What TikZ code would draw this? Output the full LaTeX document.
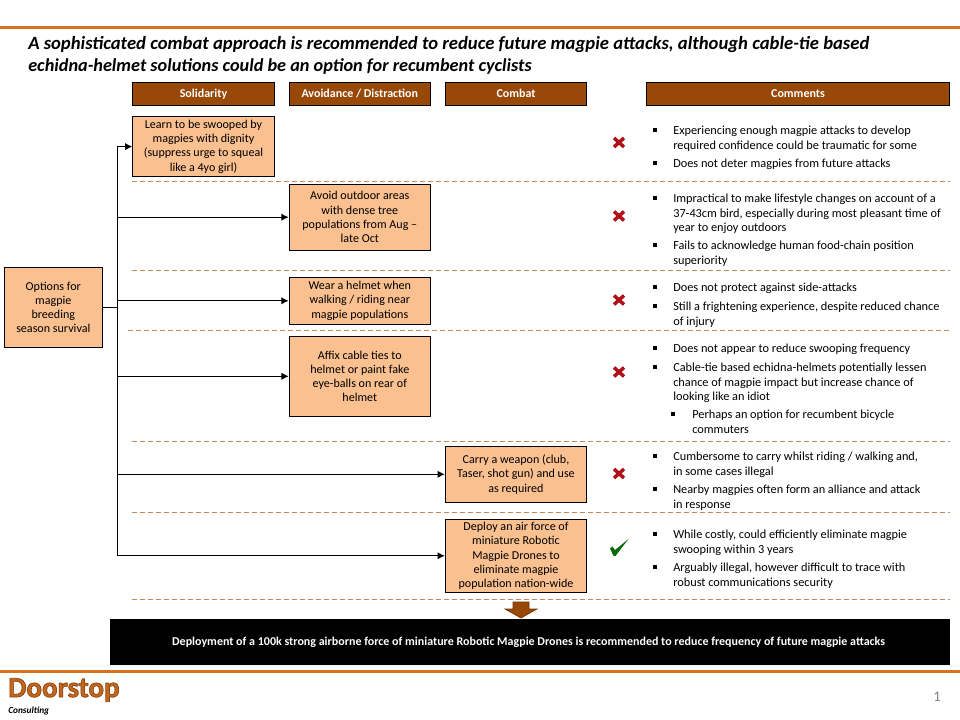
\documentclass[tikz,border=0pt]{standalone}
\usepackage{fontspec}
\setmainfont{Carlito}
\usetikzlibrary{arrows.meta,shapes.arrows}
\definecolor{hdr}{HTML}{984807}
\definecolor{boxf}{HTML}{FAC090}
\definecolor{rule}{HTML}{D9721F}
\definecolor{dashc}{HTML}{C98A55}
\definecolor{crossc}{HTML}{B01018}
\definecolor{tickc}{HTML}{0B6A10}
\tikzset{
  x=0.75pt,y=-0.75pt,
  hdrbox/.style={draw=black,line width=0.75pt,fill=hdr,text=white,inner sep=0pt,minimum height=17.5pt,text height=6.5pt,text depth=2pt,font=\fontsize{9}{10.5}\selectfont\bfseries},
  optbox/.style={draw=black,line width=0.75pt,fill=boxf,inner sep=0pt,align=center,font=\fontsize{9.05}{10.7}\selectfont},
  sepline/.style={dashc,line width=0.75pt,dash pattern=on 3.8pt off 2.2pt},
  conn/.style={black,line width=0.75pt},
  arrowconn/.style={conn,-{Latex[length=5.5pt,width=5.5pt]}},
  bullet/.style={fill=black,inner sep=0pt,minimum size=2.3pt},
  comment/.style={anchor=north west,inner sep=0pt,yshift=-2.25pt,align=left,font=\fontsize{9.22}{10.8}\selectfont},
  crossmark/.style={crossc,line width=2.6pt}
}
\newcommand{\crossat}[2]{\draw[crossmark] (#1-5,#2-4.5) -- (#1+5,#2+4.5) (#1-5,#2+4.5) -- (#1+5,#2-4.5);}
\begin{document}
\begin{tikzpicture}
\useasboundingbox (0,0) rectangle (960,720);
% rules
\fill[rule] (0,26.5) rectangle (960,29.5);
\fill[rule] (0,669.5) rectangle (960,672.5);
% title
\node[anchor=north west,inner sep=0pt,align=left,font=\fontsize{14}{16.5}\selectfont\bfseries\itshape] (title) at (28,36)
 {A sophisticated combat approach is recommended to reduce future magpie attacks, although cable-tie based\\\fontsize{13.7}{16.5}\selectfont echidna-helmet solutions could be an option for recumbent cyclists};
% headers
\node[hdrbox,minimum width=106pt] (h1) at (203.5,94.3) {Solidarity};
\node[hdrbox,minimum width=106pt] (h2) at (359.8,94.3) {Avoidance / Distraction};
\node[hdrbox,minimum width=106pt] (h3) at (516,94.3) {Combat};
\node[hdrbox,minimum width=227.5pt] (h4) at (798,94.3) {Comments};
% option boxes
\node[optbox,minimum width=106pt,minimum height=45.5pt] (b1) at (203.5,146.6) {Learn to be swooped by\\magpies with dignity\\(suppress urge to squeal\\like a 4yo girl)};
\node[optbox,minimum width=106pt,minimum height=49.25pt] (b2) at (359.8,217.2) {Avoid outdoor areas\\with dense tree\\populations from Aug --\\late Oct};
\node[optbox,minimum width=106pt,minimum height=35pt] (b3) at (359.8,300.8) {Wear a helmet when\\walking / riding near\\magpie populations};
\node[optbox,minimum width=106pt,minimum height=59.75pt] (b4) at (359.8,376.3) {Affix cable ties to\\helmet or paint fake\\eye-balls on rear of\\helmet};
\node[optbox,minimum width=106pt,minimum height=41.75pt] (b5) at (516,474.3) {Carry a weapon (club,\\Taser, shot gun) and use\\as required};
\node[optbox,minimum width=106pt,minimum height=54.75pt] (b6) at (516,555.8) {Deploy an air force of\\miniature Robotic\\Magpie Drones to\\eliminate magpie\\population nation-wide};
\node[optbox,minimum width=73.5pt,minimum height=59.75pt] (root) at (53.3,307.3) {Options for\\magpie\\breeding\\season survival};
% connectors
\coordinate (trunk) at (117.5,307.3);
\draw[conn,line width=1pt] (root.east) -- (trunk);
\foreach \n in {b1,b2,b3,b4,b5,b6} \draw[arrowconn] (trunk) |- (\n.west);
% separators
\foreach \yy/\xs in {181.3/132,271/132,330.3/128,441/132,512/132,599/132} \draw[sepline] (\xs,\yy) -- (950,\yy);
% marks
\crossat{619}{142.5}
\crossat{619}{216}
\crossat{619}{300}
\crossat{619}{372}
\crossat{619}{473.5}
\fill[tickc] (610,548.5) -- (612.5,546.5) -- (615,550) -- (628.5,539) -- (615.5,556) -- (613.5,556) -- cycle;
% comments
\foreach \xx/\yy in {655/130,655/163,655/198,655/245,655/287,655/306,655/348,655/367,673/414,655/456,655/489,655/534,655/567} \node[bullet] at (\xx,\yy) {};
\node[comment] (c1) at (673,123) {Experiencing enough magpie attacks to develop\\required confidence could be traumatic for some};
\node[comment] (c2) at (673,156) {Does not deter magpies from future attacks};
\node[comment] (c3) at (673,191) {Impractical to make lifestyle changes on account of a\\37-43cm bird, especially during most pleasant time of\\year to enjoy outdoors};
\node[comment] (c4) at (673,238) {Fails to acknowledge human food-chain position\\superiority};
\node[comment] (c5) at (673,280) {Does not protect against side-attacks};
\node[comment] (c6) at (673,299) {Still a frightening experience, despite reduced chance\\of injury};
\node[comment] (c7) at (673,341) {Does not appear to reduce swooping frequency};
\node[comment] (c8) at (673,360) {Cable-tie based echidna-helmets potentially lessen\\chance of magpie impact but increase chance of\\looking like an idiot};
\node[comment] (c9) at (692,407) {Perhaps an option for recumbent bicycle\\commuters};
\node[comment] (c10) at (673,449) {Cumbersome to carry whilst riding / walking and,\\in some cases illegal};
\node[comment] (c11) at (673,482) {Nearby magpies often form an alliance and attack\\in response};
\node[comment] (c12) at (673,527) {While costly, could efficiently eliminate magpie\\swooping within 3 years};
\node[comment] (c13) at (673,560) {Arguably illegal, however difficult to trace with\\robust communications security};
% block arrow
\fill[hdr] (513,602) -- (529,602) -- (529,609) -- (537,609) -- (521,618) -- (505,609) -- (513,609) -- cycle;
\draw[hdr!70!black,line width=0.5pt] (513,602) -- (529,602) -- (529,609) -- (537,609) -- (521,618) -- (505,609) -- (513,609) -- cycle;
% conclusion
\node[fill=black,text=white,inner sep=0pt,minimum width=630pt,minimum height=34.5pt,font=\fontsize{9}{10.7}\selectfont\bfseries] (concl) at (530,642) {\hspace*{-2pt}Deployment of a 100k strong airborne force of miniature Robotic Magpie Drones is recommended to reduce frequency of future magpie attacks};
% footer
\node[anchor=west,inner sep=0pt,text=rule!90!black,font=\fontsize{21.7}{24}\selectfont\bfseries] (logo) at (8,690) {\special{pdf:code 2 Tr 0.55 w 0.55 0.27 0.08 RG}Doorstop\special{pdf:code 0 Tr}};
\node[anchor=west,inner sep=0pt,font=\fontsize{7}{8}\selectfont\bfseries\itshape] (sub) at (8,711) {Consulting};
\node[text=black!50,inner sep=0pt,font=\fontsize{11}{13}\selectfont] (pg) at (937,697) {1};
\end{tikzpicture}
\end{document}
